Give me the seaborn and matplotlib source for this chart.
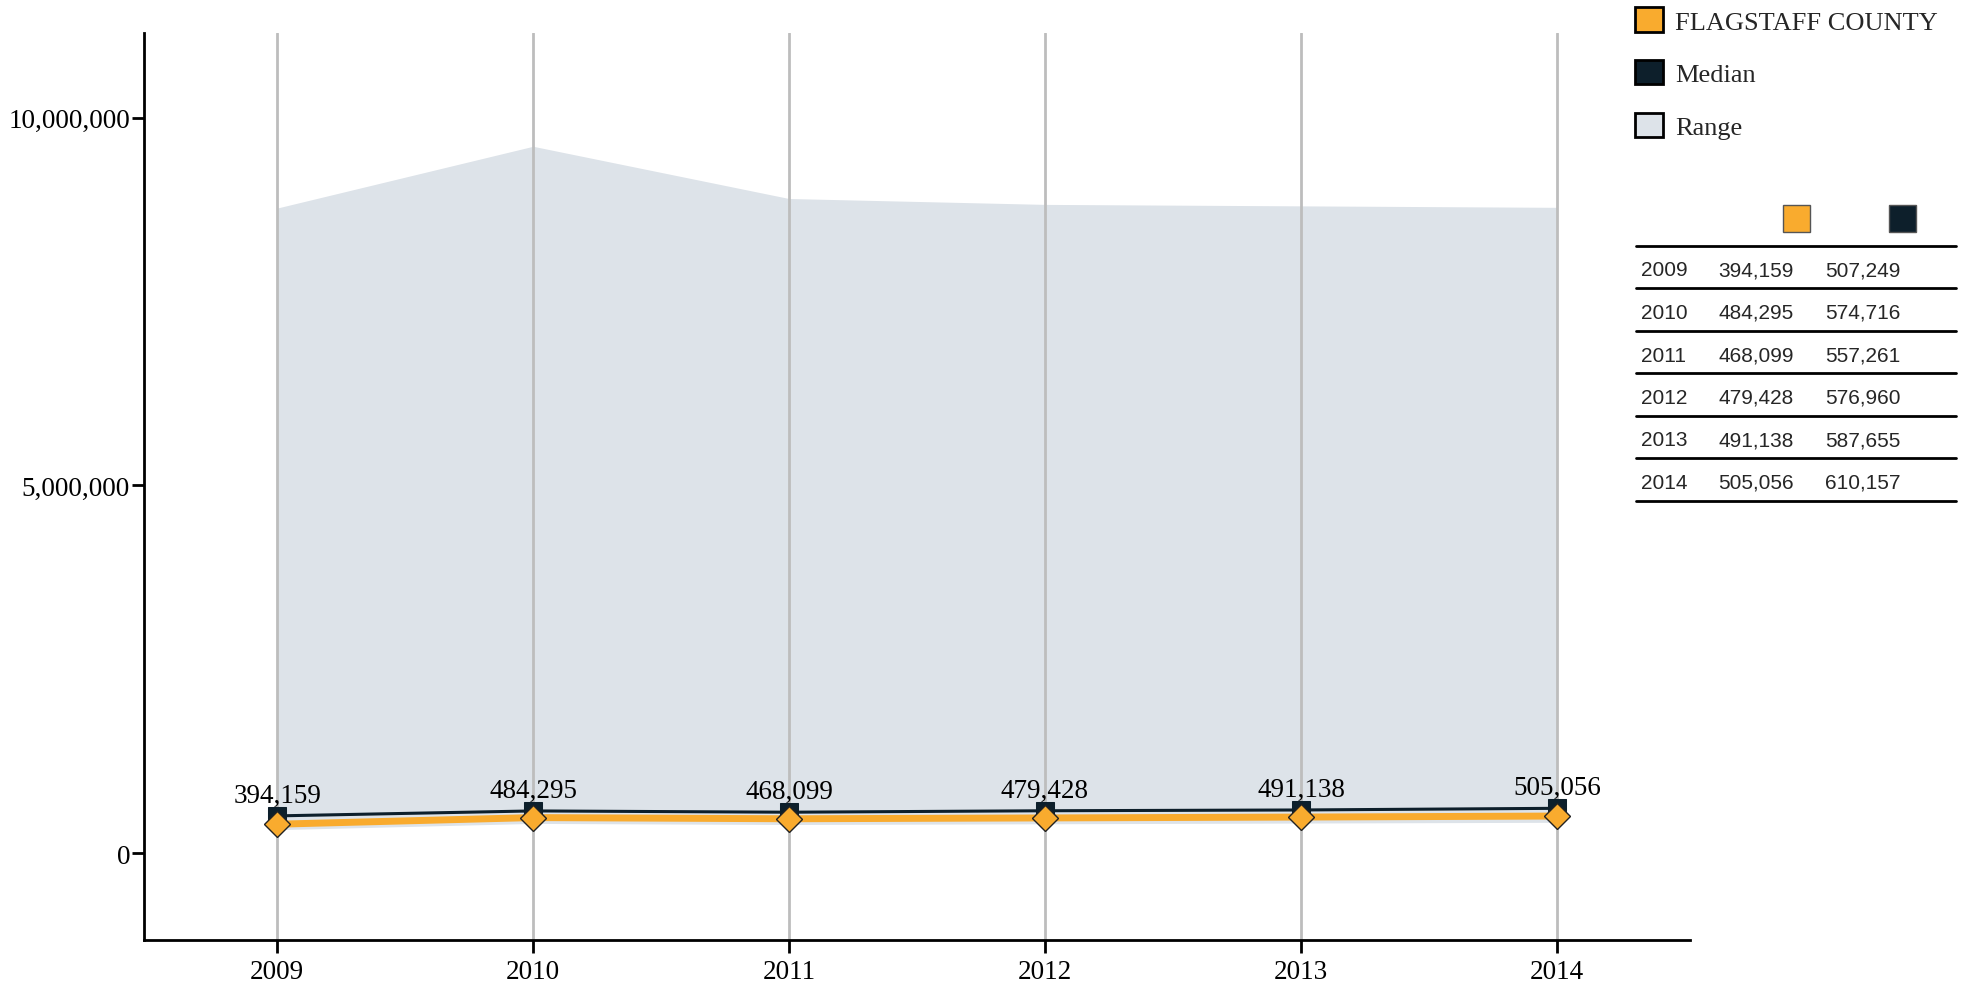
import matplotlib
matplotlib.use("Agg")
import matplotlib.pyplot as plt
import seaborn as sns
import pandas as pd
from matplotlib.patches import Patch, Rectangle
from matplotlib.lines import Line2D
from matplotlib.ticker import FuncFormatter

# Data
years = [2009, 2010, 2011, 2012, 2013, 2014]
county = [394159, 484295, 468099, 479428, 491138, 505056]
median = [507249, 574716, 557261, 576960, 587655, 610157]
range_low = [320000, 405000, 390000, 400000, 410000, 420000]
range_high = [8770000, 9610000, 8900000, 8820000, 8800000, 8780000]

ORANGE = "#f9ab2e"
NAVY = "#0d1f2b"
RANGE = "#dde3e9"

df = pd.DataFrame({"Year": years, "County": county, "Median": median})

sns.set_style("white")
plt.rcParams["font.family"] = ["Liberation Serif", "DejaVu Serif"]

W, H = 1969, 987
fig = plt.figure(figsize=(W / 100, H / 100), dpi=100)
ax = fig.add_axes([144 / W, 1 - 941 / H, (1690 - 144) / W, (941 - 34) / H])

# Range band
ax.fill_between(years, range_low, range_high, color=RANGE, lw=0, zorder=1)

# vertical grid lines
for y in years:
    ax.axvline(y, color="#bdbdbd", lw=2, zorder=2)

# Median line
sns.lineplot(data=df, x="Year", y="Median", ax=ax, color=NAVY, lw=2.2,
             marker="s", markersize=13, markeredgecolor=NAVY, zorder=4)
# County line
sns.lineplot(data=df, x="Year", y="County", ax=ax, color=ORANGE, lw=5,
             marker="D", markersize=13, markeredgecolor="#222222",
             markeredgewidth=1, zorder=5)

for x, c, m in zip(years, county, median):
    ax.annotate(f"{c:,}", (x, m), xytext=(0, 6), textcoords="offset points",
                ha="center", va="bottom", fontsize=19.5, color="black", zorder=6)

ax.set_xlim(2008.48, 2014.52)
ax.set_ylim(-1180000, 11150000)
ax.set_xticks(years)
ax.set_xticklabels([str(y) for y in years])
ax.set_yticks([0, 5000000, 10000000])
ax.yaxis.set_major_formatter(FuncFormatter(lambda v, p: f"{int(v):,}"))
ax.set_xlabel("")
ax.set_ylabel("")
for s in ["top", "right"]:
    ax.spines[s].set_visible(False)
for s in ["left", "bottom"]:
    ax.spines[s].set_color("black")
    ax.spines[s].set_linewidth(2)
ax.tick_params(axis="both", direction="out", length=9, width=2, labelsize=19.5,
               colors="black", bottom=True, left=True)
ax.tick_params(axis="x", pad=5)
ax.tick_params(axis="y", pad=1)

# Legend
handles = [Patch(facecolor=ORANGE, edgecolor="black", lw=2, label="FLAGSTAFF COUNTY"),
           Patch(facecolor=NAVY, edgecolor="black", lw=2, label="Median"),
           Patch(facecolor=RANGE, edgecolor="black", lw=2, label="Range")]
fig.legend(handles=handles, loc="upper left", bbox_to_anchor=(1630 / W, 1 - 3 / H),
           frameon=False, fontsize=19, handlelength=1.05, handleheight=1.05,
           labelspacing=1.0, handletextpad=0.45, borderaxespad=0, borderpad=0.2)

# Data table
def fx(px):
    return px / W

def fy(py):
    return 1 - py / H

fig.add_artist(Rectangle((fx(1783), fy(233)), 27 / W, 27 / H, transform=fig.transFigure,
                         facecolor=ORANGE, edgecolor="#555555", lw=1))
fig.add_artist(Rectangle((fx(1889), fy(233)), 27 / W, 27 / H, transform=fig.transFigure,
                         facecolor=NAVY, edgecolor="#555555", lw=1))
line_ys = [247, 289, 332, 374, 417, 459, 502]
for ly in line_ys:
    fig.add_artist(Line2D([fx(1636), fx(1956)], [fy(ly), fy(ly)],
                          transform=fig.transFigure, color="black", lw=2))
for i, (yr, c, m) in enumerate(zip(years, county, median)):
    cy = fy((line_ys[i] + line_ys[i + 1]) / 2 + 3)
    kw = dict(fontsize=15, va="center", ha="left", family=["Liberation Sans", "DejaVu Sans"])
    fig.text(fx(1641), cy, str(yr), **kw)
    fig.text(fx(1718), cy, f"{c:,}", **kw)
    fig.text(fx(1825), cy, f"{m:,}", **kw)

fig.savefig("out.png", dpi=100, facecolor="white")
